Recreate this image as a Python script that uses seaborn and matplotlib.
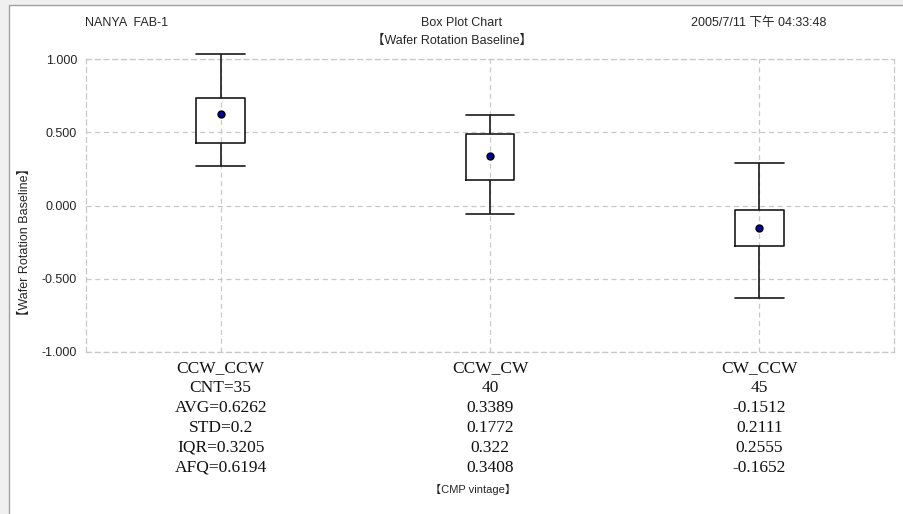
import matplotlib
matplotlib.use("Agg")
import matplotlib.pyplot as plt
from matplotlib.patches import Rectangle
import numpy as np
import pandas as pd
import seaborn as sns

# box plot summary
categories = ['CCW_CCW', 'CCW_CW', 'CW_CCW']
whisker_low = [0.273, -0.055, -0.632]
q1 = [0.425, 0.173, -0.278]
q3 = [0.732, 0.487, -0.029]
whisker_high = [1.037, 0.621, 0.293]

# stats table under the chart
cnt = [35, 40, 45]
avg = [0.6262, 0.3389, -0.1512]
std = [0.2, 0.1772, 0.2111]
iqr = [0.3205, 0.322, 0.2555]
afq = [0.6194, 0.3408, -0.1652]

yticks = [1.0, 0.5, 0.0, -0.5, -1.0]

SANS = ['Liberation Sans', 'Noto Sans CJK TC']
SERIF = ['Liberation Serif', 'DejaVu Serif']

# five-number rows per group (median line is hidden, afq used as middle value)
rows = []
for i, c in enumerate(categories):
    for v in [whisker_low[i], q1[i], afq[i], q3[i], whisker_high[i]]:
        rows.append({'group': c, 'value': v})
df = pd.DataFrame(rows)
means = pd.DataFrame({'group': categories, 'avg': avg})

sns.set_style('white')
plt.rcParams['font.family'] = SANS

fig = plt.figure(figsize=(9.04, 5.14), dpi=100)
fig.patch.set_facecolor('#f0f0f0')
fig.add_artist(Rectangle((9 / 904, -0.01), 1.0, 1 - 5 / 514 + 0.01, transform=fig.transFigure,
                         facecolor='white', edgecolor='#a0a0a0', linewidth=1.0, zorder=0))

ax = fig.add_axes([86 / 904, 1 - 352 / 514, 808 / 904, 293 / 514])
ax.set_facecolor('white')

sns.boxplot(data=df, x='group', y='value', order=categories, whis=(0, 100), width=0.18,
            fill=False, color='#1a1a1a', linewidth=1.2, showfliers=False,
            medianprops={'visible': False}, capwidths=0.18, ax=ax)
for ln in ax.lines:
    ln.set_clip_on(False)
    ln.set_zorder(3)

sns.stripplot(data=means, x='group', y='avg', order=categories, jitter=False, size=5,
              color='#0000a0', edgecolor='black', linewidth=1, ax=ax, zorder=4)
for coll in ax.collections:
    coll.set_clip_on(False)

ax.set_ylim(-1.0, 1.0)
ax.set_xlim(-0.5, 2.5)
ax.set_yticks(yticks)
ax.set_yticklabels([f'{v:.3f}' for v in yticks], fontsize=9, family=SANS)
ax.grid(True, color='#c8c8c8', linestyle=(0, (4, 3)), linewidth=0.9)
ax.set_axisbelow(True)
for sp in ax.spines.values():
    sp.set_color('#c8c8c8')
    sp.set_linestyle((0, (4, 3)))
    sp.set_linewidth(0.9)
ax.tick_params(length=0)
ax.tick_params(axis='y', pad=6.5)
ax.tick_params(axis='x', pad=6)

labels = []
for i, c in enumerate(categories):
    if i == 0:
        lines = [c, f'CNT={cnt[i]}', f'AVG={avg[i]:g}', f'STD={std[i]:g}',
                 f'IQR={iqr[i]:g}', f'AFQ={afq[i]:g}']
    else:
        lines = [c, f'{cnt[i]}', f'{avg[i]:g}', f'{std[i]:g}', f'{iqr[i]:g}', f'{afq[i]:g}']
    labels.append('\n'.join(lines))
ax.set_xticks(range(len(categories)))
ax.set_xticklabels(labels, family=SERIF, fontsize=12.5, linespacing=1.32, color='#111111')
ax.set_xlabel('')
ax.set_ylabel('')

# header texts
fig.text(85 / 904, 1 - 23 / 514, 'NANYA  FAB-1', fontsize=9, ha='left', va='center', family=SANS)
fig.text(462 / 904, 1 - 23 / 514, 'Box Plot Chart', fontsize=9, ha='center', va='center', family=SANS)
fig.text(452 / 904, 1 - 41 / 514, '【Wafer Rotation Baseline】', fontsize=9, ha='center', va='center',
         family=SANS)
fig.text(759 / 904, 1 - 23 / 514, '2005/7/11 下午 04:33:48', fontsize=9, ha='center', va='center',
         family=SANS)
fig.text(25 / 904, 1 - 242 / 514, '【Wafer Rotation Baseline】', fontsize=9, rotation=90,
         ha='center', va='center', family=SANS)
fig.text(473 / 904, 1 - 489 / 514, '【CMP vintage】', fontsize=8, ha='center', va='center', family=SANS)

fig.savefig('out.png', dpi=100, facecolor=fig.get_facecolor())
